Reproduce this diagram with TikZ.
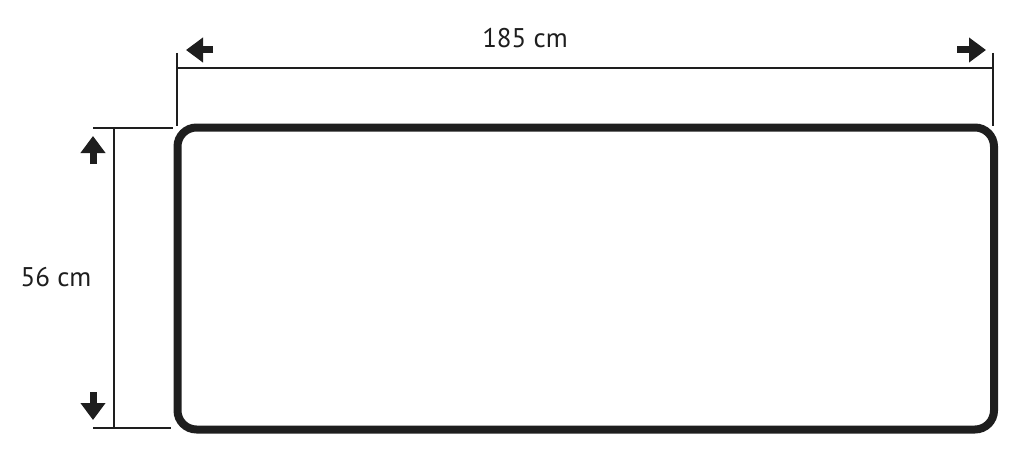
\documentclass[tikz,border=0pt]{standalone}
\usepackage{fontspec}
\setmainfont{PT Sans}
\usetikzlibrary{arrows.meta}
\definecolor{ink}{HTML}{1E1E1E}
\begin{document}
\begin{tikzpicture}[x=1pt,y=-1pt,
  thinline/.style={draw=ink,line width=2.8pt},
  panel/.style={draw=ink,line width=8pt,rounded corners=19pt},
  blockarrow/.style={draw=ink,line width=7pt,-{Triangle[length=17pt,width=24pt]}},
  dimlabel/.style={text=ink,font=\fontsize{27}{30}\selectfont,inner sep=0pt,anchor=base}]
\useasboundingbox (0,0) rectangle (1013,452);
% panel
\draw[panel] (177.5,127.5) rectangle (994,429.5);
% width dimension
\coordinate (wl0) at (177,53);
\coordinate (wl1) at (177,126);
\coordinate (wr0) at (993,53);
\coordinate (wr1) at (993,126);
\coordinate (wa) at (177,68);
\coordinate (wb) at (993,68);
\draw[thinline] (wl0) -- (wl1);
\draw[thinline] (wr0) -- (wr1);
\draw[thinline] (wa) -- (wb);
% height dimension
\coordinate (ht0) at (93,128);
\coordinate (ht1) at (173,128);
\coordinate (hb0) at (93,428);
\coordinate (hb1) at (171,428);
\coordinate (hv0) at (114,128);
\coordinate (hv1) at (114,428);
\draw[thinline] (ht0) -- (ht1);
\draw[thinline] (hb0) -- (hb1);
\draw[thinline] (hv0) -- (hv1);
% arrows
\coordinate (la0) at (213,50);
\coordinate (la1) at (186,50);
\coordinate (ra0) at (957,50);
\coordinate (ra1) at (986,50);
\coordinate (ua0) at (93,164);
\coordinate (ua1) at (93,136);
\coordinate (da0) at (93,392);
\coordinate (da1) at (93,420);
\draw[blockarrow] (la0) -- (la1);
\draw[blockarrow] (ra0) -- (ra1);
\draw[blockarrow] (ua0) -- (ua1);
\draw[blockarrow] (da0) -- (da1);
% labels
\node[dimlabel] (wlabel) at (525,48) {185 cm};
\node[dimlabel] (hlabel) at (56,286) {56 cm};
\end{tikzpicture}
\end{document}
